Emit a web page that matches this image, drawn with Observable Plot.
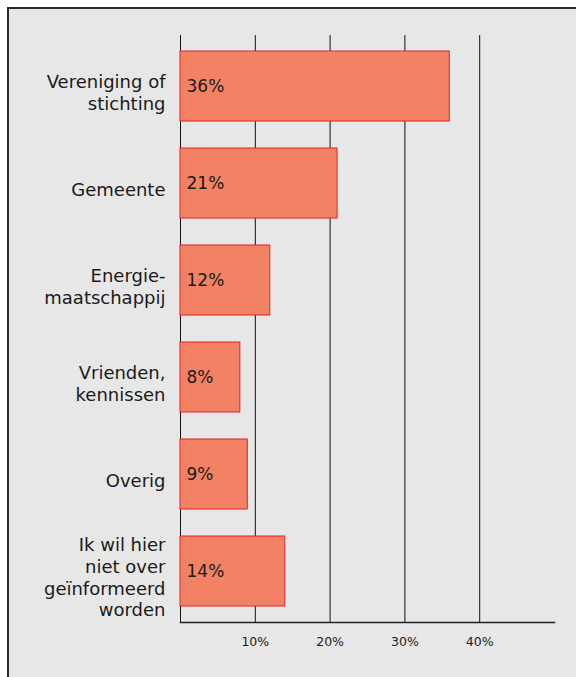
<!DOCTYPE html>
<html>
<head>
<meta charset="utf-8">
<script src="https://cdn.jsdelivr.net/npm/d3@7"></script>
<script src="https://cdn.jsdelivr.net/npm/@observablehq/plot@0.6"></script>
<style>
  html, body { margin: 0; padding: 0; width: 576px; height: 677px; overflow: hidden; background: #fff; }
  #panel { position: absolute; left: 7px; top: 7px; width: 600px; height: 700px;
           background: #e7e7e7; border-left: 2px solid #2a2a2a; border-top: 2px solid #2a2a2a; }
  #chart { position: absolute; left: 0; top: 0; }
  #chart svg { background: transparent; }
</style>
</head>
<body>
<div id="panel"></div>
<div id="chart"></div>
<script>
const categories = [
  "Vereniging of\nstichting",
  "Gemeente",
  "Energie-\nmaatschappij",
  "Vrienden,\nkennissen",
  "Overig",
  "Ik wil hier\nniet over\ngeïnformeerd\nworden"
];
const values = [36, 21, 12, 8, 9, 14];
const xTicks = [10, 20, 30, 40];
const xTickLabels = ["10%", "20%", "30%", "40%"];

const data = categories.map((c, i) => ({cat: c, value: values[i]}));
const font = "DejaVu Sans, Verdana, sans-serif";

const chart = Plot.plot({
  width: 576,
  height: 677,
  marginLeft: 180,
  marginRight: 22,
  marginTop: 35,
  marginBottom: 55,
  style: {fontFamily: font, color: "#1a1a1a", background: "transparent"},
  x: {domain: [0, 50]},
  y: {domain: categories, paddingInner: 0.275, paddingOuter: 0.1375},
  marks: [
    Plot.ruleX([0, ...xTicks], {stroke: "#111", strokeWidth: 1}),
    Plot.barX(data, {x: "value", y: "cat", fill: "#f28263", stroke: "#e8202a", strokeWidth: 1}),
    Plot.text(data, {x: 0, y: "cat", text: d => d.value + "%", textAnchor: "start", dx: 6, fontSize: 17, fill: "#1a1a1a"}),
    Plot.frame({anchor: "bottom", stroke: "#222", strokeWidth: 1.5}),
    Plot.axisX({ticks: xTicks, tickFormat: (d) => xTickLabels[xTicks.indexOf(d)], tickSize: 0, tickPadding: 15, fontSize: 12.5, label: null}),
    Plot.axisY({tickSize: 0, tickPadding: 15, fontSize: 18, lineHeight: 1.22, dy: 5, label: null, fill: "#1a1a1a"})
  ]
});
document.getElementById("chart").appendChild(chart);
</script>
</body>
</html>
